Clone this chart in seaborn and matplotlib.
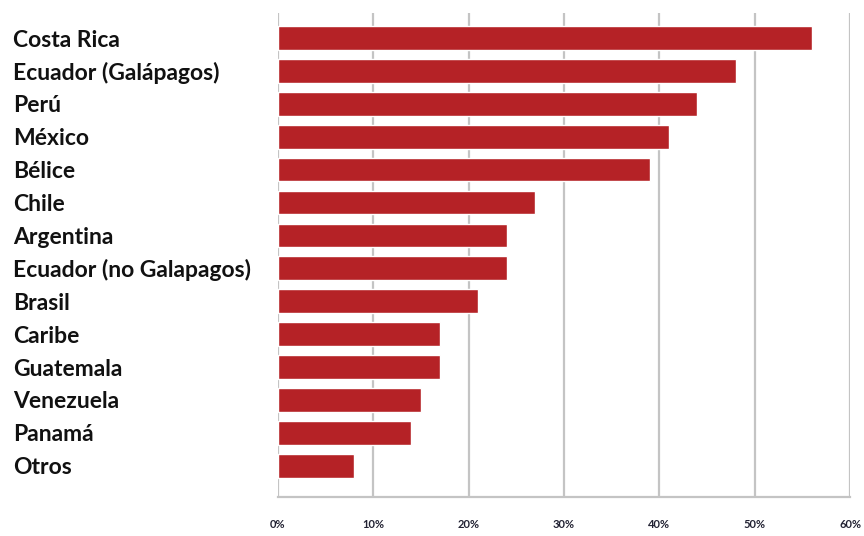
import matplotlib
matplotlib.use("Agg")
import matplotlib.pyplot as plt
import pandas as pd
import seaborn as sns

countries = [
    "Costa Rica", "Ecuador (Galápagos)", "Perú", "México", "Bélice", "Chile",
    "Argentina", "Ecuador (no Galapagos)", "Brasil", "Caribe", "Guatemala",
    "Venezuela", "Panamá", "Otros",
]
values = [56, 48, 44, 41, 39, 27, 24, 24, 21, 17, 17, 15, 14, 8]
xticks = [0, 10, 20, 30, 40, 50, 60]
xtick_labels = ["0%", "10%", "20%", "30%", "40%", "50%", "60%"]

df = pd.DataFrame({"pais": countries, "valor": values})

sns.set_style("white")
plt.rcParams["font.family"] = ["Lato", "DejaVu Sans"]

fig = plt.figure(figsize=(8.64, 5.36), dpi=100)
ax = fig.add_axes([278 / 864, 1 - 497 / 536, 572 / 864, 484 / 536])

sns.barplot(data=df, x="valor", y="pais", orient="h", color="#B52226",
            width=0.72, saturation=1, ax=ax, zorder=3)

ax.set_xlim(0, 60)
ax.set_ylim(13.95, -0.76)
ax.set_xticks(xticks)
ax.set_xticklabels(xtick_labels, fontsize=8, fontweight="bold", color="#222233")
ax.xaxis.grid(True, color="#c4c4c4", linewidth=1.6, zorder=0)
ax.yaxis.grid(False)
for s in ["top", "right", "left"]:
    ax.spines[s].set_visible(False)
ax.spines["bottom"].set_color("#c4c4c4")
ax.spines["bottom"].set_linewidth(1.6)
ax.tick_params(axis="x", length=3, width=1.6, color="#c4c4c4", pad=13)
ax.tick_params(axis="y", length=0, pad=191)
for lbl in ax.get_yticklabels():
    lbl.set_horizontalalignment("left")
    lbl.set_fontsize(16.5)
    lbl.set_fontweight("bold")
    lbl.set_color("#111111")
ax.set_xlabel("")
ax.set_ylabel("")

fig.savefig("out.png", dpi=100)
